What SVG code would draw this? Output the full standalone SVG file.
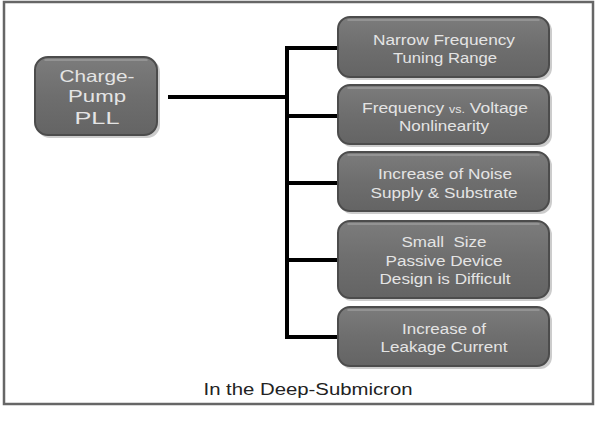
<svg xmlns="http://www.w3.org/2000/svg" width="599" height="421" viewBox="0 0 599 421">
<defs>
<linearGradient id="g" x1="0" y1="0" x2="0" y2="1">
<stop offset="0" stop-color="#7c7c7c"/>
<stop offset="0.5" stop-color="#6e6e6e"/>
<stop offset="1" stop-color="#646464"/>
</linearGradient>
<style>
.box{fill:url(#g);stroke:#4c4c4c;stroke-width:2}
.shadow{fill:#9a9a9a;opacity:0.5}
.hl{fill:none;stroke:#9c9c9c;stroke-width:1.5;stroke-linecap:round}
.t{font-family:"Liberation Sans",Arial,sans-serif;font-size:14px;fill:#e4e4e4;text-anchor:middle}
.big{font-size:16.5px}
.conn{fill:none;stroke:#000;stroke-width:4;stroke-linecap:square}
</style>
</defs>
<rect x="0" y="0" width="599" height="421" fill="#fff"/>
<rect x="4" y="2" width="589" height="402" fill="#fff" stroke="#666" stroke-width="2.5"/>
<g id="connectors">
<path class="conn" d="M170 97 H287"/>
<path class="conn" d="M287 48 V337"/>
<path class="conn" d="M287 48 H338 M287 116 H338 M287 183 H338 M287 260 H338 M287 337 H338"/>
</g>
<g id="charge-pump">
<rect class="shadow" x="37" y="59" width="123" height="79" rx="13"/>
<rect class="box" x="35" y="57" width="122" height="78" rx="13"/>
<path class="hl" d="M45 60 H147"/>
<text class="t big" x="97" y="82" textLength="75" lengthAdjust="spacingAndGlyphs">Charge-</text>
<text class="t big" x="97" y="102" textLength="58" lengthAdjust="spacingAndGlyphs">Pump</text>
<text class="t big" x="97" y="124" textLength="45" lengthAdjust="spacingAndGlyphs">PLL</text>
</g>
<g id="n1">
<rect class="shadow" x="340" y="19" width="212" height="61" rx="12"/>
<rect class="box" x="338" y="17" width="211" height="60" rx="12"/>
<path class="hl" d="M348 20 H539"/>
<text class="t" x="444" y="45" textLength="142" lengthAdjust="spacingAndGlyphs">Narrow Frequency</text>
<text class="t" x="445" y="63" textLength="104" lengthAdjust="spacingAndGlyphs">Tuning Range</text>
</g>
<g id="n2">
<rect class="shadow" x="340" y="87" width="212" height="60" rx="12"/>
<rect class="box" x="338" y="85" width="211" height="59" rx="12"/>
<path class="hl" d="M348 88 H539"/>
<text class="t" x="445" y="113" textLength="166" lengthAdjust="spacingAndGlyphs">Frequency <tspan font-size="10px">vs.</tspan> Voltage</text>
<text class="t" x="444" y="131" textLength="90" lengthAdjust="spacingAndGlyphs">Nonlinearity</text>
</g>
<g id="n3">
<rect class="shadow" x="340" y="154" width="212" height="60" rx="12"/>
<rect class="box" x="338" y="152" width="211" height="59" rx="12"/>
<path class="hl" d="M348 155 H539"/>
<text class="t" x="445" y="179" textLength="134" lengthAdjust="spacingAndGlyphs">Increase of Noise</text>
<text class="t" x="444" y="198" textLength="147" lengthAdjust="spacingAndGlyphs">Supply &amp; Substrate</text>
</g>
<g id="n4">
<rect class="shadow" x="340" y="223" width="212" height="78" rx="12"/>
<rect class="box" x="338" y="221" width="211" height="77" rx="12"/>
<path class="hl" d="M348 224 H539"/>
<text class="t" x="444" y="247" textLength="85" lengthAdjust="spacingAndGlyphs" xml:space="preserve">Small  Size</text>
<text class="t" x="444" y="266" textLength="117" lengthAdjust="spacingAndGlyphs">Passive Device</text>
<text class="t" x="445" y="284" textLength="131" lengthAdjust="spacingAndGlyphs">Design is Difficult</text>
</g>
<g id="n5">
<rect class="shadow" x="340" y="309" width="212" height="60" rx="12"/>
<rect class="box" x="338" y="307" width="211" height="59" rx="12"/>
<path class="hl" d="M348 310 H539"/>
<text class="t" x="444" y="334" textLength="84" lengthAdjust="spacingAndGlyphs">Increase of</text>
<text class="t" x="444" y="352" textLength="127" lengthAdjust="spacingAndGlyphs">Leakage Current</text>
</g>
<text x="308" y="395" font-family="Liberation Sans,Arial,sans-serif" font-size="16px" fill="#222" text-anchor="middle" textLength="209" lengthAdjust="spacingAndGlyphs">In the Deep-Submicron</text>
</svg>
